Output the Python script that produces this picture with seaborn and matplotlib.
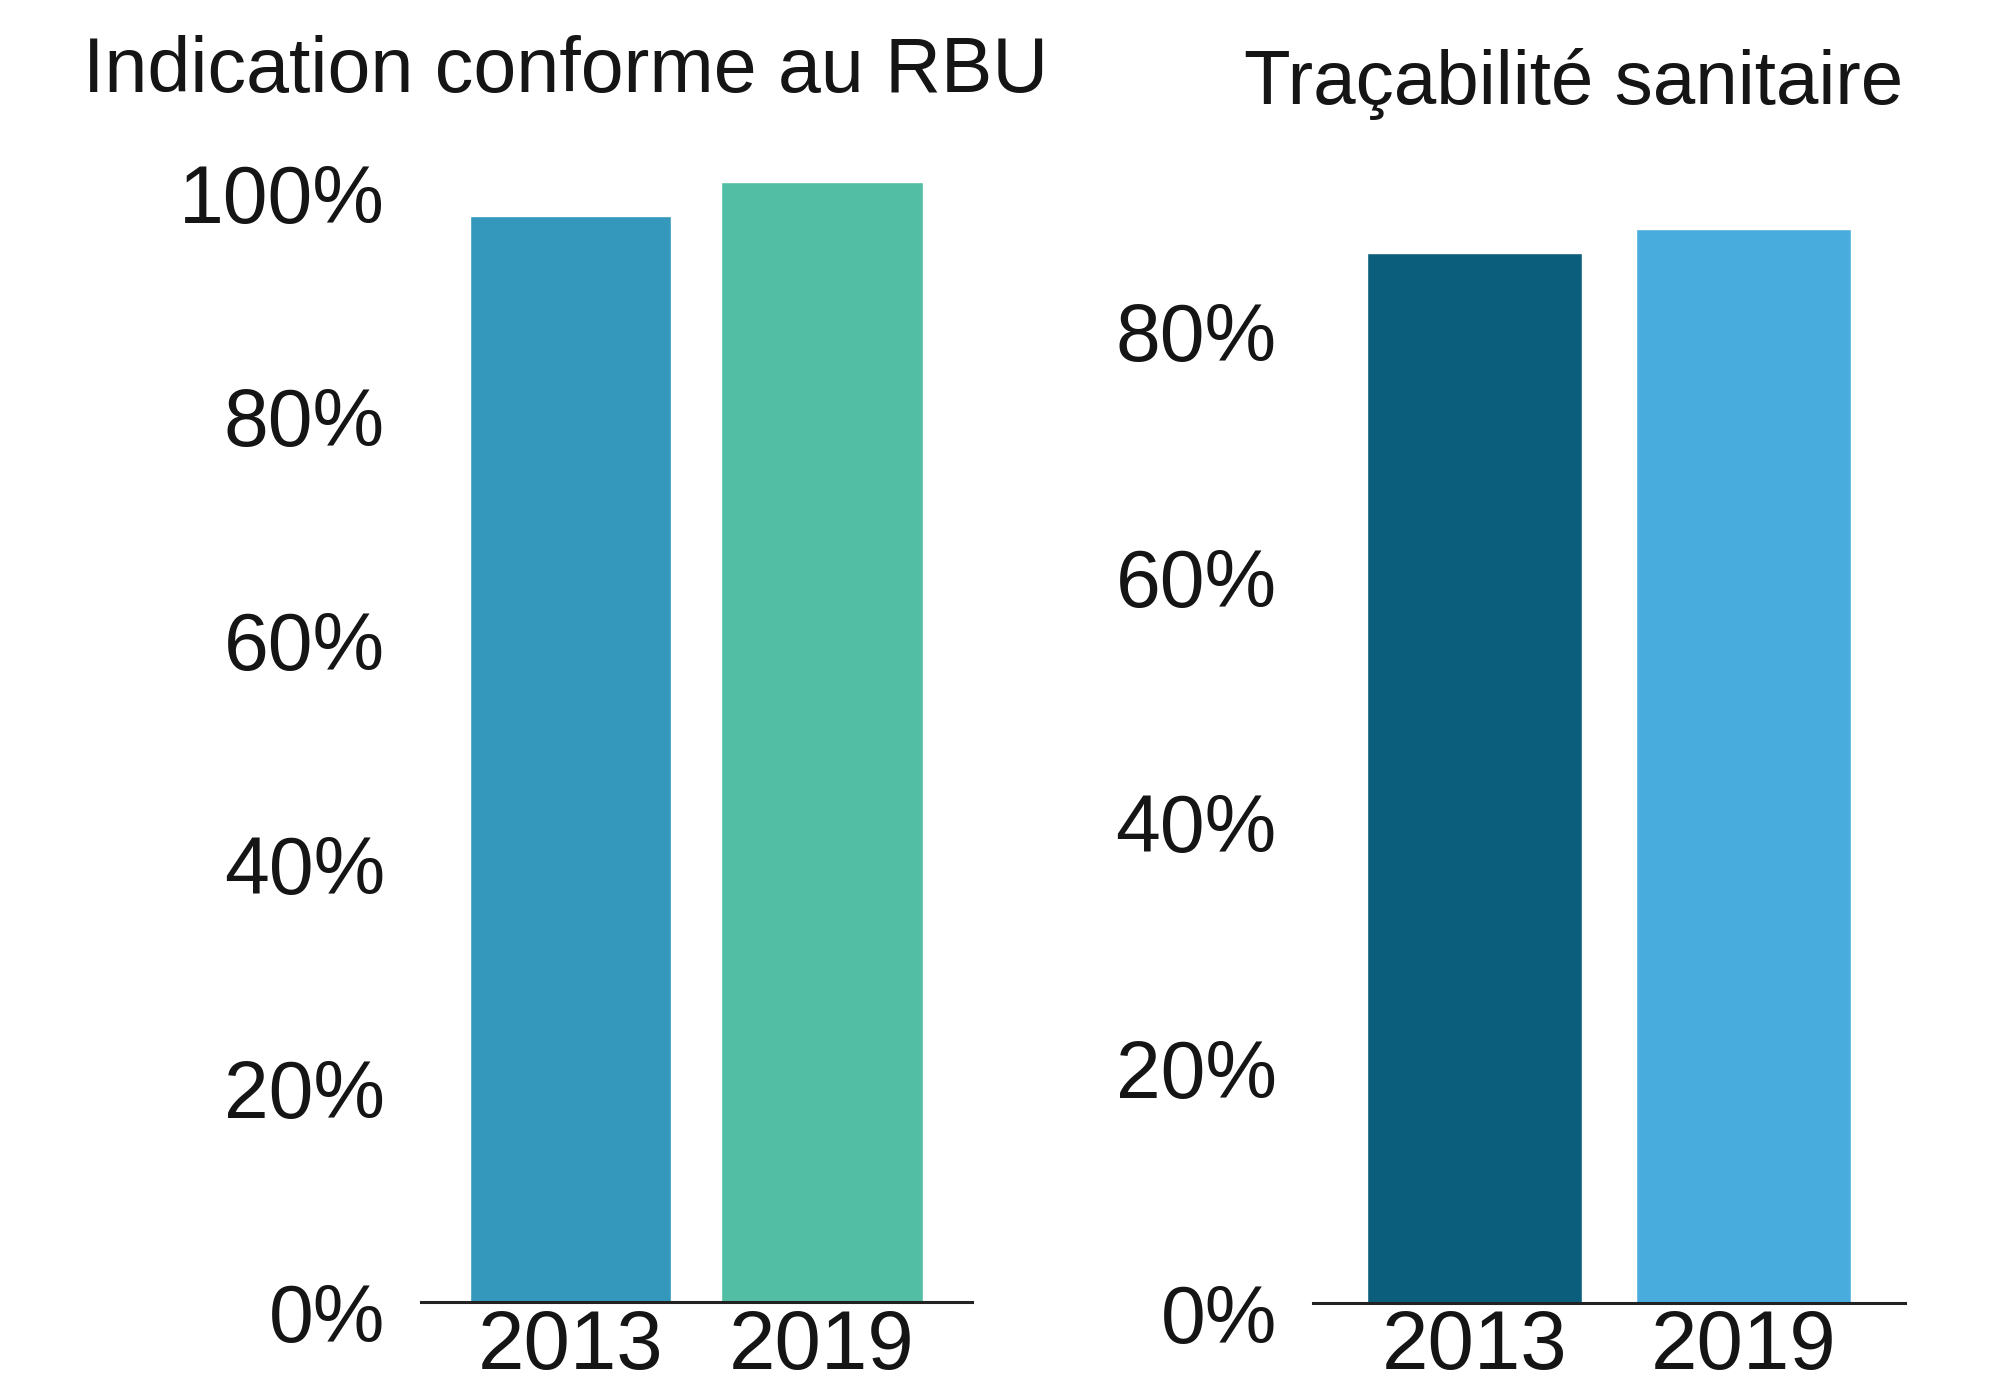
import pandas as pd
import matplotlib
matplotlib.use("Agg")
import matplotlib.pyplot as plt
import matplotlib.transforms as mtransforms
import seaborn as sns

# data
years = ["2013", "2019"]
rbu_values = [0.97, 1.0]
traca_values = [0.855, 0.875]
rbu_colors = ["#3398bb", "#52bea3"]
traca_colors = ["#0c5f7c", "#48addd"]
rbu_ticks = [0, 0.2, 0.4, 0.6, 0.8, 1.0]
traca_ticks = [0, 0.2, 0.4, 0.6, 0.8]
titles = ["Indication conforme au RBU", "Traçabilité sanitaire"]

sns.set_theme(style="white")
plt.rcParams['font.family'] = ['Liberation Sans', 'DejaVu Sans']
TXT = "#151515"

fig = plt.figure(figsize=(19.99, 13.83), dpi=100)
ax1 = fig.add_axes([0.2106, 0.0586, 0.2756, 0.8098])
ax2 = fig.add_axes([0.6568, 0.0579, 0.2961, 0.781])


def draw(ax, values, colors, ticks, ytop, xlim):
    df = pd.DataFrame({"year": years, "value": values})
    sns.barplot(data=df, x="year", y="value", hue="year", palette=colors,
                legend=False, width=0.8, saturation=1, ax=ax)
    ax.set_ylim(0, ytop)
    ax.set_xlim(*xlim)
    ax.set_yticks(ticks)
    ax.set_yticklabels([f"{t * 100:.0f}%" for t in ticks])
    ax.set_xlabel("")
    ax.set_ylabel("")
    for s in ["top", "right", "left"]:
        ax.spines[s].set_visible(False)
    ax.spines["bottom"].set_color("#222222")
    ax.spines["bottom"].set_linewidth(2.2)
    ax.tick_params(axis="y", length=0, pad=26, labelsize=58, colors=TXT)
    ax.tick_params(axis="x", length=0, pad=4, labelsize=60, colors=TXT)
    # the % labels sit a little below their tick position in the reference
    off = mtransforms.ScaledTranslation(0, -0.11, fig.dpi_scale_trans)
    for lab in ax.get_yticklabels():
        lab.set_transform(lab.get_transform() + off)


draw(ax1, rbu_values, rbu_colors, rbu_ticks, 1.0, (-0.593, 1.595))
draw(ax2, traca_values, traca_colors, traca_ticks, 0.88, (-0.6, 1.6))

fig.text(0.0415, 0.948, titles[0], fontsize=55.5, color=TXT, ha="left", va="center")
fig.text(0.952, 0.9395, titles[1], fontsize=55, color=TXT, ha="right", va="center")

fig.savefig("out.png", dpi=100)
